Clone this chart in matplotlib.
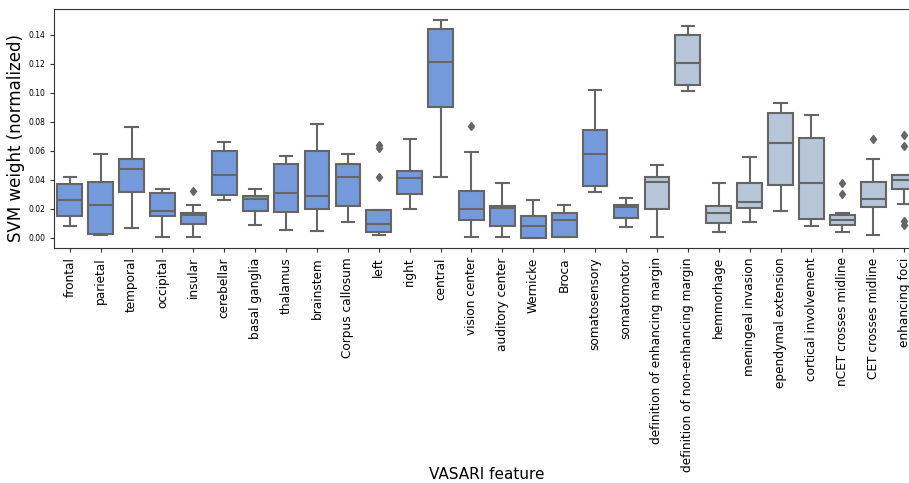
import colorsys
import matplotlib
matplotlib.use("Agg")
import matplotlib.pyplot as plt

features = ["frontal", "parietal", "temporal", "occipital", "insular", "cerebellar",
            "basal ganglia", "thalamus", "brainstem", "Corpus callosum", "left", "right",
            "central", "vision center", "auditory center", "Wernicke", "Broca",
            "somatosensory", "somatomotor", "definition of enhancing margin",
            "definition of non-enhancing margin", "hemmorhage", "meningeal invasion",
            "ependymal extension", "cortical involvement", "nCET crosses midline",
            "CET crosses midline", "enhancing foci"]

# box summaries per feature
whis_lo = [0.0081, 0.0017, 0.0069, 0.0003, 0.0007, 0.0258, 0.0088, 0.0053, 0.0048, 0.0110,
           0.0021, 0.0196, 0.0421, 0.0003, 0.0003, 0.0000, 0.0003, 0.0318, 0.0076, 0.0003,
           0.1011, 0.0037, 0.0108, 0.0182, 0.0081, 0.0037, 0.0019, 0.0233]
q1 = [0.0152, 0.0028, 0.0318, 0.0152, 0.0093, 0.0297, 0.0182, 0.0177, 0.0198, 0.0221,
      0.0037, 0.0304, 0.0903, 0.0122, 0.0083, 0.0000, 0.0007, 0.0355, 0.0134, 0.0196,
      0.1052, 0.0099, 0.0207, 0.0366, 0.0129, 0.0088, 0.0212, 0.0334]
med = [0.0260, 0.0226, 0.0474, 0.0186, 0.0157, 0.0431, 0.0265, 0.0311, 0.0288, 0.0421,
       0.0093, 0.0412, 0.1213, 0.0196, 0.0205, 0.0079, 0.0122, 0.0576, 0.0210, 0.0385,
       0.1206, 0.0168, 0.0247, 0.0656, 0.0378, 0.0122, 0.0265, 0.0396]
q3 = [0.0369, 0.0387, 0.0546, 0.0311, 0.0173, 0.0599, 0.0288, 0.0511, 0.0599, 0.0509,
      0.0191, 0.0461, 0.1439, 0.0323, 0.0219, 0.0150, 0.0173, 0.0742, 0.0226, 0.0419,
      0.1400, 0.0219, 0.0378, 0.0861, 0.0686, 0.0155, 0.0387, 0.0433]
whis_hi = [0.0417, 0.0576, 0.0767, 0.0336, 0.0228, 0.0661, 0.0334, 0.0566, 0.0785, 0.0578,
           0.0191, 0.0682, 0.1501, 0.0590, 0.0378, 0.0260, 0.0226, 0.1022, 0.0274, 0.0500,
           0.1464, 0.0378, 0.0557, 0.0928, 0.0845, 0.0168, 0.0543, 0.0433]
outliers = {4: [0.0320], 10: [0.0640, 0.0622, 0.0417], 13: [0.0769],
            25: [0.0380, 0.0302], 26: [0.0680], 27: [0.0709, 0.0633, 0.0112, 0.0088]}

n_location = 19  # first group: location features, rest: morphology


def desaturate(name, prop):
    r, g, b = matplotlib.colors.to_rgb(name)
    h, l, s = colorsys.rgb_to_hls(r, g, b)
    return colorsys.hls_to_rgb(h, l, s * prop)


blue = desaturate("cornflowerblue", 0.75)
light = desaturate("lightsteelblue", 0.75)
lum = colorsys.rgb_to_hls(*blue)[1] * 0.6
gray = (lum, lum, lum)

stats = []
for i in range(len(features)):
    stats.append(dict(whislo=whis_lo[i], q1=q1[i], med=med[i], q3=q3[i],
                      whishi=whis_hi[i], fliers=outliers.get(i, [])))

fig = plt.figure(figsize=(9.09, 4.83), dpi=100)
ax = fig.add_axes([0.0597, 0.486, 0.952, 0.4947])

bp = ax.bxp(stats, positions=range(len(features)), widths=0.8, patch_artist=True,
            boxprops=dict(edgecolor=gray, linewidth=1.5),
            medianprops=dict(color=gray, linewidth=1.5),
            whiskerprops=dict(color=gray, linewidth=1.5),
            capprops=dict(color=gray, linewidth=1.5),
            flierprops=dict(marker="d", markerfacecolor=gray, markeredgecolor=gray,
                            markersize=4.5, linestyle="none"))
for i, box in enumerate(bp["boxes"]):
    box.set_facecolor(blue if i < n_location else light)

ax.set_xlim(-0.5, len(features) - 0.5)
ax.set_ylim(-0.0073, 0.1577)
ax.set_yticks([0.0, 0.02, 0.04, 0.06, 0.08, 0.10, 0.12, 0.14])
ax.set_yticklabels(["%.2f" % v for v in ax.get_yticks()], fontsize=5.5)
ax.set_xticks(range(len(features)))
ax.set_xticklabels(features, rotation=90, fontsize=8.7)
ax.tick_params(axis="both", length=3, width=0.8, color="#333333")
for sp in ax.spines.values():
    sp.set_color("#333333")

ax.set_ylabel("SVM weight (normalized)", fontsize=12)
ax.yaxis.set_label_coords(-0.034, 0.461)
ax.set_xlabel("VASARI feature", fontsize=11)
ax.xaxis.set_label_coords(0.5, -0.915)

fig.savefig("out.png", dpi=100)
